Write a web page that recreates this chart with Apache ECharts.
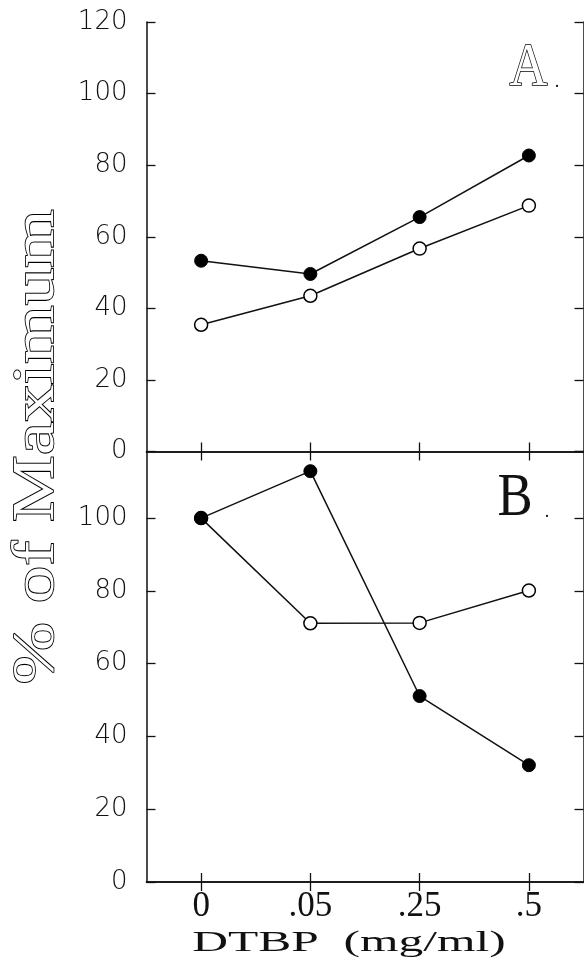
<!DOCTYPE html>
<html>
<head>
<meta charset="utf-8">
<script src="https://cdn.jsdelivr.net/npm/echarts@6/dist/echarts.min.js"></script>
<style>
html,body{margin:0;padding:0;background:#fff;}
#chart{width:584px;height:978px;}
</style>
</head>
<body>
<div id="chart"></div>
<script>
// ---- data ----
const categories = ['0', '.05', '.25', '.5'];
const panelAFilled = [53.3, 49.6, 65.5, 82.7];
const panelAOpen = [35.4, 43.5, 56.7, 68.7];
const panelBFilled = [100, 112.9, 51.1, 32.1];
const panelBOpen = [100, 71.1, 71.2, 80.1];
const yMaxA = 120;
const yMaxB = 118.3;
const yInterval = 20;
const xTitle = 'DTBP  (mg/ml)';
const yTitle = '% of Maximum';
const panelLabels = ['A', 'B'];

// ---- chart ----
const chart = echarts.init(document.getElementById('chart'), null, {renderer: 'canvas'});
const black = '#111';
const serif = '"Liberation Serif"';
const axisLine = {show: true, lineStyle: {color: black, width: 1.5}};
const tickIn = {show: true, inside: true, length: 9, lineStyle: {color: black, width: 1.3}};

function xAx(grid, pos, showLabel) {
  return {
    type: 'category', gridIndex: grid, position: pos, data: categories,
    boundaryGap: true,
    axisLine: axisLine,
    axisTick: Object.assign({alignWithLabel: true}, tickIn),
    axisLabel: {
      show: showLabel, margin: 7, color: black,
      fontFamily: 'Liberation Serif', fontSize: 35
    },
    splitLine: {show: false}
  };
}
function yAx(grid, pos, max, showLabel) {
  return {
    type: 'value', gridIndex: grid, position: pos, min: 0, max: max, interval: yInterval,
    axisLine: axisLine,
    axisTick: tickIn,
    axisLabel: {
      show: showLabel, margin: 19, color: black,
      fontFamily: 'DejaVu Sans', fontWeight: 200, fontSize: 26,
      showMaxLabel: max === yMaxA,
      formatter: function (v) { return (v % yInterval === 0) ? String(v) : ''; }
    },
    splitLine: {show: false}
  };
}
function lineSeries(name, data, xi, yi, filled) {
  return {
    name: name, type: 'line', data: data, xAxisIndex: xi, yAxisIndex: yi,
    symbol: 'circle', symbolSize: 13, showSymbol: true,
    lineStyle: {color: black, width: 1.5},
    itemStyle: filled ? {color: '#000', borderColor: '#000', borderWidth: 1}
                      : {color: '#fff', borderColor: '#000', borderWidth: 1.5},
    z: filled ? 3 : 2
  };
}

const option = {
  animation: false,
  backgroundColor: '#fff',
  grid: [
    {left: 146.5, top: 22, width: 437, height: 429.5},
    {left: 146.5, top: 451.5, width: 437, height: 430.5}
  ],
  xAxis: [
    xAx(0, 'bottom', false),
    xAx(0, 'top', false),
    xAx(1, 'top', false),
    xAx(1, 'bottom', true)
  ],
  yAxis: [
    yAx(0, 'left', yMaxA, true),
    yAx(0, 'right', yMaxA, false),
    yAx(1, 'left', yMaxB, true),
    yAx(1, 'right', yMaxB, false)
  ],
  series: [
    lineSeries('A open', panelAOpen, 0, 0, false),
    lineSeries('A filled', panelAFilled, 0, 0, true),
    lineSeries('B open', panelBOpen, 3, 2, false),
    lineSeries('B filled', panelBFilled, 3, 2, true)
  ],
  graphic: [
    {type: 'text', x: 37, y: 447, rotation: Math.PI / 2, scaleX: 1.25,
     style: {text: yTitle, font: '60px ' + serif, fill: '#fff', stroke: '#000', lineWidth: 1.7,
             strokeNoScale: true, align: 'center', verticalAlign: 'middle'}},
    {type: 'text', x: 349, y: 943, scaleX: 1.65,
     style: {text: xTitle, font: '30px ' + serif, fill: black, align: 'center', verticalAlign: 'middle'}},
    {type: 'text', x: 528.5, y: 69, scaleX: 0.85,
     style: {text: panelLabels[0], font: '62px ' + serif, fill: '#fff', stroke: '#000', lineWidth: 1.6,
             strokeNoScale: true, align: 'center', verticalAlign: 'middle'}},
    {type: 'text', x: 557, y: 82, style: {text: '.', font: '18px ' + serif, fill: black, align: 'center', verticalAlign: 'middle'}},
    {type: 'text', x: 515, y: 499, scaleX: 0.85,
     style: {text: panelLabels[1], font: '62px ' + serif, fill: black, align: 'center', verticalAlign: 'middle'}},
    {type: 'text', x: 547, y: 512, style: {text: '.', font: '18px ' + serif, fill: black, align: 'center', verticalAlign: 'middle'}}
  ]
};
chart.setOption(option);
</script>
</body>
</html>
